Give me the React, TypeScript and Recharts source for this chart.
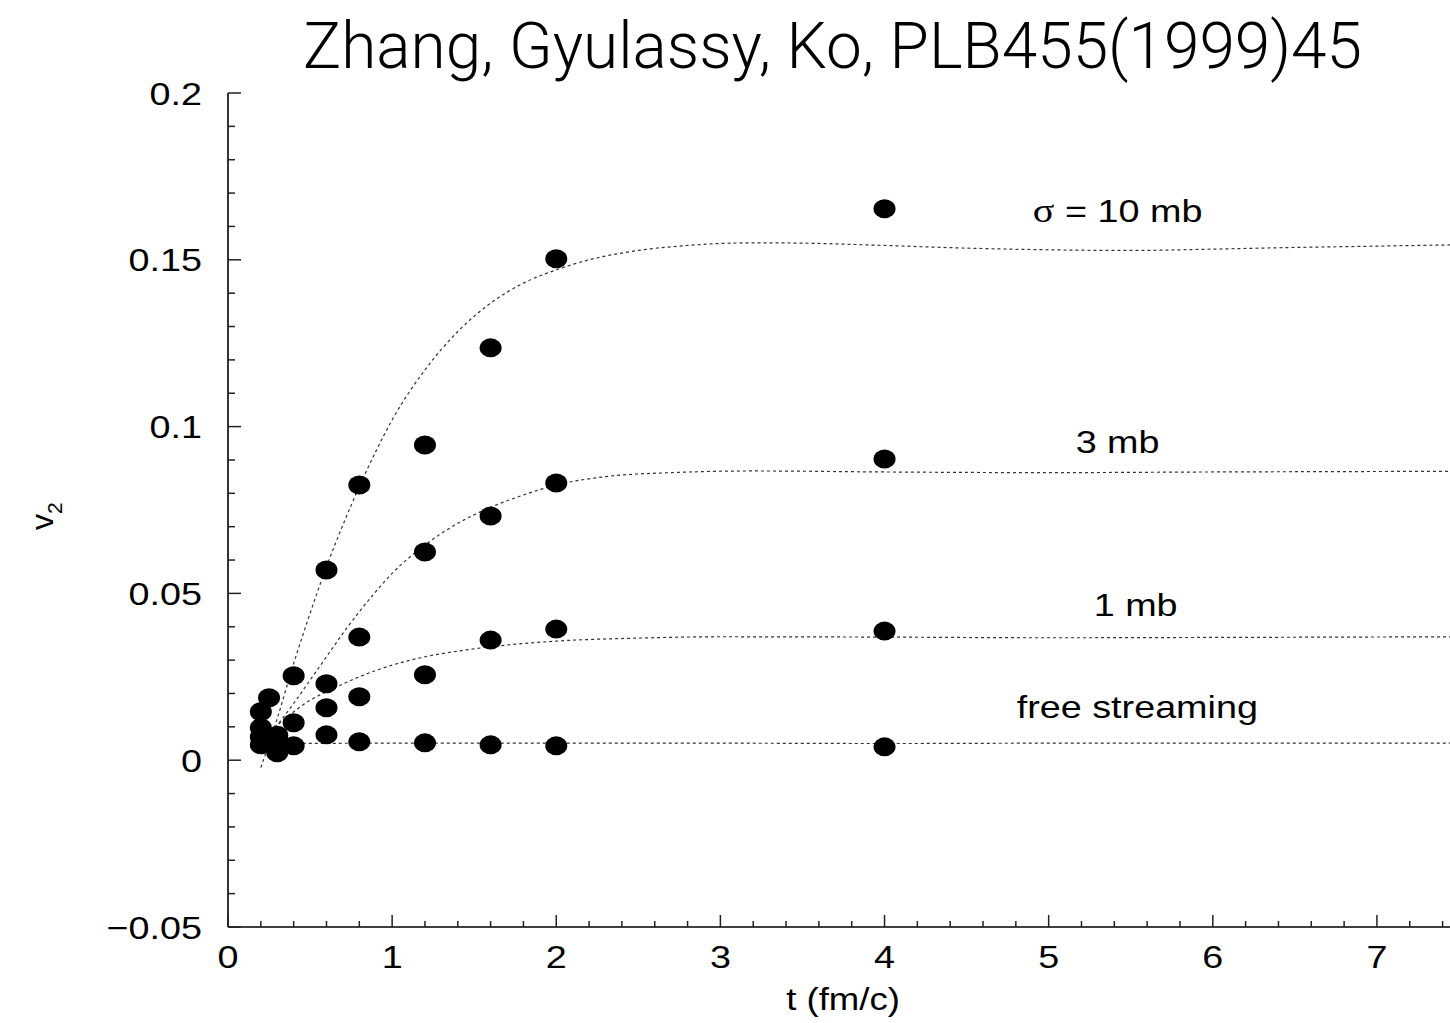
import React from 'react';
import { ComposedChart, Line, Scatter, XAxis, YAxis, ReferenceDot } from 'recharts';

// simulation points: [t (fm/c), v2]
const dots10mb = [[0.25, 0.0187], [0.3, 0.0075], [0.4, 0.0253], [0.6, 0.057], [0.8, 0.0825], [1.2, 0.0945], [1.6, 0.1236], [2, 0.1503], [4, 0.1653]];
const dots3mb = [[0.2, 0.0145], [0.3, 0.006], [0.4, 0.0112], [0.6, 0.0229], [0.8, 0.0369], [1.2, 0.0624], [1.6, 0.0732], [2, 0.0831], [4, 0.0903]];
const dots1mb = [[0.2, 0.0097], [0.3, 0.0045], [0.4, 0.0043], [0.6, 0.0157], [0.8, 0.019], [1.2, 0.0256], [1.6, 0.036], [2, 0.0393], [4, 0.0387]];
const dotsFree = [[0.2, 0.007], [0.2, 0.0046], [0.3, 0.0022], [0.6, 0.0076], [0.8, 0.0055], [1.2, 0.0052], [1.6, 0.0046], [2, 0.0043], [4, 0.004]];

// dashed curves
const curve10mb = [[0.2, -0.0022], [0.3, 0.0125], [0.4, 0.029], [0.5, 0.044], [0.6, 0.058], [0.7, 0.0705], [0.8, 0.082], [0.9, 0.0925], [1.0, 0.102], [1.2, 0.117], [1.4, 0.1285], [1.6, 0.137], [1.8, 0.143], [2.0, 0.147], [2.2, 0.15], [2.5, 0.1528], [2.8, 0.1543], [3.2, 0.1551], [3.6, 0.1549], [4.0, 0.1543], [4.5, 0.1535], [5.0, 0.153], [5.5, 0.1528], [6.0, 0.1532], [6.5, 0.1537], [7.0, 0.1541], [7.5, 0.1545]];
const curve3mb = [[0.2, 0.004], [0.3, 0.0105], [0.4, 0.017], [0.5, 0.024], [0.6, 0.031], [0.7, 0.038], [0.8, 0.0445], [0.9, 0.0505], [1.0, 0.056], [1.2, 0.0645], [1.4, 0.071], [1.6, 0.0758], [1.8, 0.0795], [2.0, 0.0825], [2.3, 0.085], [2.7, 0.0862], [3.2, 0.0867], [4.0, 0.0864], [5.0, 0.0862], [6.0, 0.0864], [7.5, 0.0866]];
const curve1mb = [[0.2, 0.006], [0.3, 0.0105], [0.4, 0.0145], [0.5, 0.018], [0.6, 0.0205], [0.8, 0.025], [1.0, 0.0285], [1.2, 0.031], [1.4, 0.0327], [1.6, 0.034], [2.0, 0.0357], [2.5, 0.0366], [3.0, 0.037], [4.0, 0.0369], [5.0, 0.0367], [6.0, 0.0368], [7.5, 0.037]];
const curveFree = [[0.2, 0.0045], [0.4, 0.005], [1.0, 0.0051], [2.0, 0.0051], [3.0, 0.0051], [4.0, 0.005], [5.0, 0.0051], [6.0, 0.0051], [7.5, 0.0051]];

const xMajorTicks = [0, 1, 2, 3, 4, 5, 6, 7];
const yMajorTicks = [-0.05, 0, 0.05, 0.1, 0.15, 0.2];
const yTickLabels = ['\u22120.05', '0', '0.05', '0.1', '0.15', '0.2'];

const annotations = [
  { t: 5.42, v: 0.1614, text: '10 mb', sigma: true },
  { t: 5.42, v: 0.0922, text: '3 mb' },
  { t: 5.53, v: 0.0431, text: '1 mb' },
  { t: 5.54, v: 0.0127, text: 'free streaming' },
];

// minor ticks every 0.2 in t and 0.01 in v2
const xTicks: number[] = [];
for (let i = 0; i <= 37; i++) xTicks.push(Math.round(i * 2) / 10);
const yTicks: number[] = [];
for (let i = -5; i <= 20; i++) yTicks.push(i / 100);

const rows = (pts: number[][]) => pts.map(([t, v]) => ({ t, v }));

const FONT = '"Liberation Sans", Arial, Helvetica, sans-serif';
const STRETCH = 1.18;
const TICK = '#222';

const isMajorX = (v: number) => xMajorTicks.some(m => Math.abs(m - v) < 1e-6);
const majorYIndex = (v: number) => yMajorTicks.findIndex(m => Math.abs(m - v) < 1e-6);

const BottomTick = (props: any) => {
  const { x, y, payload } = props;
  const major = isMajorX(payload.value);
  return (
    <g>
      <line x1={x} y1={y} x2={x} y2={y - (major ? 12 : 6)} stroke={TICK} strokeWidth={1.5} />
      {major && (
        <text transform={`translate(${x},${y + 41}) scale(${STRETCH},1)`} textAnchor="middle" fontSize={32} fontFamily={FONT} fill="#000">
          {payload.value}
        </text>
      )}
    </g>
  );
};

const TopTick = (props: any) => {
  const { x, y, payload } = props;
  const major = isMajorX(payload.value);
  return <line x1={x} y1={y} x2={x} y2={y + (major ? 12 : 6)} stroke={TICK} strokeWidth={1.5} />;
};

const LeftTick = (props: any) => {
  const { x, y, payload } = props;
  const idx = majorYIndex(payload.value);
  return (
    <g>
      <line x1={x} y1={y} x2={x + (idx >= 0 ? 13 : 7)} y2={y} stroke={TICK} strokeWidth={1.5} />
      {idx >= 0 && (
        <text transform={`translate(${x - 26},${y + 11.5}) scale(${STRETCH},1)`} textAnchor="end" fontSize={32} fontFamily={FONT} fill="#000">
          {yTickLabels[idx]}
        </text>
      )}
    </g>
  );
};

const RightTick = (props: any) => {
  const { x, y, payload } = props;
  const major = majorYIndex(payload.value) >= 0;
  return <line x1={x} y1={y} x2={x - (major ? 13 : 7)} y2={y} stroke={TICK} strokeWidth={1.5} />;
};

const Dot = (props: any) => <ellipse cx={props.cx} cy={props.cy} rx={11} ry={9.5} fill="#000" />;

const Note = ({ text, sigma }: { text: string; sigma?: boolean }) => (props: any) => (
  <text transform={`translate(${props.cx},${props.cy}) scale(${STRETCH},1)`} textAnchor="middle" fontSize={32} fontFamily={FONT} fill="#000">
    {sigma && <tspan fontFamily='"Liberation Serif", "DejaVu Serif", serif' fontSize={34}>σ</tspan>}
    {sigma ? ` = ${text}` : text}
  </text>
);

const curveStyle = { stroke: '#333', strokeWidth: 1.2, strokeDasharray: '3 3' };

export default function App() {
  return (
    <div style={{ position: 'absolute', left: 0, top: 0, width: 1450, height: 1023, overflow: 'hidden', background: '#fff' }}>
      <ComposedChart width={1470} height={1023} margin={{ top: 93, right: 11, bottom: 0, left: 0 }}>
        <XAxis
          dataKey="t"
          type="number"
          domain={[0, 7.5]}
          ticks={xTicks}
          interval={0}
          height={96}
          tickSize={0}
          tickMargin={0}
          tickLine={false}
          tick={<BottomTick />}
          axisLine={{ stroke: '#000', strokeWidth: 1.6 }}
        />
        <XAxis
          xAxisId="top"
          orientation="top"
          dataKey="t"
          type="number"
          domain={[0, 7.5]}
          ticks={xTicks}
          interval={0}
          height={0}
          tickSize={0}
          tickMargin={0}
          tickLine={false}
          tick={<TopTick />}
          axisLine={{ stroke: '#000', strokeWidth: 1.6 }}
        />
        <YAxis
          dataKey="v"
          type="number"
          domain={[-0.05, 0.2]}
          ticks={yTicks}
          interval={0}
          width={228}
          tickSize={0}
          tickMargin={0}
          tickLine={false}
          tick={<LeftTick />}
          axisLine={{ stroke: '#000', strokeWidth: 1.6 }}
        />
        <YAxis
          yAxisId="right"
          orientation="right"
          dataKey="v"
          type="number"
          domain={[-0.05, 0.2]}
          ticks={yTicks}
          interval={0}
          width={0}
          tickSize={0}
          tickMargin={0}
          tickLine={false}
          tick={<RightTick />}
          axisLine={{ stroke: '#000', strokeWidth: 1.6 }}
        />

        <Line data={rows(curve10mb)} dataKey="v" type="monotone" dot={false} activeDot={false} isAnimationActive={false} {...curveStyle} />
        <Line data={rows(curve3mb)} dataKey="v" type="monotone" dot={false} activeDot={false} isAnimationActive={false} {...curveStyle} />
        <Line data={rows(curve1mb)} dataKey="v" type="monotone" dot={false} activeDot={false} isAnimationActive={false} {...curveStyle} />
        <Line data={rows(curveFree)} dataKey="v" type="monotone" dot={false} activeDot={false} isAnimationActive={false} {...curveStyle} />

        <Scatter data={rows(dots10mb)} dataKey="v" shape={Dot} isAnimationActive={false} />
        <Scatter data={rows(dots3mb)} dataKey="v" shape={Dot} isAnimationActive={false} />
        <Scatter data={rows(dots1mb)} dataKey="v" shape={Dot} isAnimationActive={false} />
        <Scatter data={rows(dotsFree)} dataKey="v" shape={Dot} isAnimationActive={false} />

        {annotations.map((a, i) => (
          <ReferenceDot key={i} x={a.t} y={a.v} r={0} shape={Note(a)} />
        ))}
      </ComposedChart>

      <svg width={1450} height={1023} style={{ position: 'absolute', left: 0, top: 0, pointerEvents: 'none' }}>
        <text x={303} y={68} fontSize={64} fontFamily="Roboto, 'Liberation Sans', sans-serif" fontWeight={300} textLength={1059} lengthAdjust="spacingAndGlyphs" fill="#000">
          Zhang, Gyulassy, Ko, PLB455(1999)45
        </text>
        <text transform={`translate(843,1010) scale(${STRETCH},1)`} textAnchor="middle" fontSize={31} fontFamily={FONT} fill="#000">
          t (fm/c)
        </text>
        <text transform="translate(53,530) rotate(-90)" fontSize={32} fontFamily={FONT} fill="#000">
          v<tspan fontSize={21} dy={9}>2</tspan>
        </text>
      </svg>
    </div>
  );
}
